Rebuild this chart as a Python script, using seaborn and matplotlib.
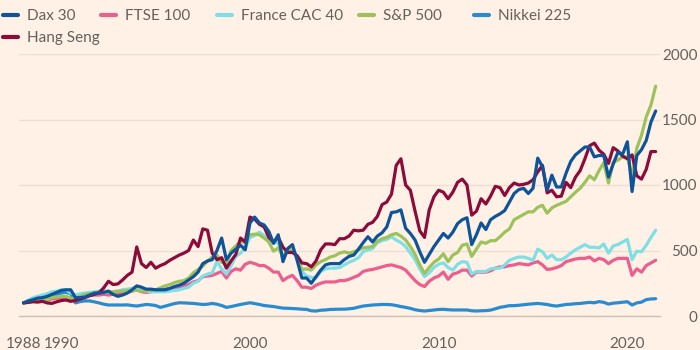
import numpy as np
import pandas as pd
import matplotlib
matplotlib.use("Agg")
import matplotlib.pyplot as plt
from matplotlib.lines import Line2D
import seaborn as sns

# quarterly index values (1988 Q1 = 100)
quarters = 1988 + 0.25 * np.arange(135)

dax = [
    100, 115, 125, 137,  140, 150, 165, 180,  195, 200, 200, 140,  140, 145, 160, 175,
    175, 180, 190, 165,  150, 160, 175, 200,  230, 220, 205, 205,  200, 200, 200, 210,
    225, 235, 250, 275,  300, 335, 400, 420,  430, 500, 595, 430,  480, 510, 540, 505,
    710, 755, 710, 695,  645, 555, 620, 415,  515, 545, 425, 290,  290, 250, 300, 350,
    390, 400, 400, 400,  430, 455, 465, 510,  560, 605, 565, 610,  635, 680, 790, 795,
    810, 670, 630, 580,  490, 410, 470, 530,  580, 630, 595, 640,  705, 735, 750, 545,
    620, 710, 660, 735,  760, 780, 805, 870,  935, 965, 975, 935,  975, 1205, 1140, 960,
    1075, 985, 985, 1090,  1180, 1230, 1260, 1290,  1290, 1215, 1225, 1225,
    1060, 1160, 1250, 1235,  1330, 950, 1225, 1270,  1340, 1480, 1565,
]
ftse = [
    100, 105, 110, 112,  118, 120, 130, 135,  140, 145, 130, 135,  140, 150, 155, 160,
    160, 165, 160, 165,  170, 175, 180, 190,  200, 185, 180, 185,  190, 195, 205, 210,
    215, 220, 230, 240,  260, 270, 300, 305,  310, 325, 340, 290,  340, 360, 350, 395,
    410, 400, 385, 385,  365, 335, 335, 270,  295, 310, 270, 220,  220, 210, 235, 250,
    260, 260, 260, 270,  270, 280, 295, 310,  340, 350, 355, 365,  375, 385, 390, 380,
    370, 350, 310, 270,  240, 225, 265, 290,  305, 335, 280, 320,  330, 350, 350, 305,
    335, 335, 335, 345,  365, 375, 375, 385,  390, 400, 395, 390,  405, 415, 390, 355,
    360, 370, 385, 415,  425, 435, 440, 440,  450, 420, 440, 430,
    400, 425, 440, 440,  440, 310, 360, 335,  385, 405, 425,
]
cac = [
    100, 120, 140, 150,  160, 170, 185, 190,  200, 200, 175, 160,  170, 175, 180, 185,
    190, 195, 185, 180,  190, 200, 205, 210,  220, 200, 190, 185,  185, 185, 185, 190,
    195, 200, 210, 220,  250, 265, 305, 320,  330, 415, 360, 320,  385, 455, 480, 520,
    600, 615, 640, 615,  580, 555, 565, 430,  495, 505, 450, 340,  305, 295, 290, 340,
    360, 365, 365, 370,  390, 410, 425, 445,  490, 505, 515, 560,  575, 585, 605, 580,
    560, 530, 480, 430,  360, 300, 330, 370,  395, 405, 370, 350,  395, 415, 410, 320,
    340, 340, 340, 360,  365, 365, 390, 425,  440, 450, 450, 440,  425, 510, 490, 440,
    465, 430, 430, 450,  480, 505, 525, 545,  525, 525, 520, 550,
    480, 535, 545, 565,  585, 430, 495, 490,  540, 600, 655,
]
sp500 = [
    100, 105, 110, 110,  118, 125, 140, 145,  148, 150, 135, 140,  150, 165, 170, 175,
    180, 180, 180, 185,  190, 190, 195, 195,  195, 190, 195, 195,  200, 215, 230, 240,
    255, 265, 270, 290,  330, 355, 380, 420,  450, 465, 410, 400,  500, 535, 570, 560,
    620, 625, 620, 595,  565, 495, 520, 455,  505, 505, 450, 355,  360, 350, 390, 415,
    430, 450, 460, 480,  490, 480, 490, 505,  520, 525, 530, 570,  590, 600, 620, 630,
    610, 580, 530, 470,  390, 325, 370, 410,  435, 475, 415, 465,  485, 540, 550, 455,
    510, 565, 555, 575,  575, 605, 640, 665,  735, 755, 775, 795,  795, 830, 845, 785,
    825, 845, 860, 875,  910, 945, 975, 1020,  1070, 1040, 1110, 1170,
    1015, 1175, 1190, 1215,  1215, 1060, 1280, 1380,  1520, 1610, 1755,
]
nikkei = [
    100, 110, 118, 125,  133, 145, 155, 165,  175, 180, 170, 100,  110, 115, 115, 108,
    100, 90, 84, 84,  84, 84, 85, 80,  76, 82, 88, 85,  80, 66, 75, 85,
    95, 101, 100, 98,  96, 92, 88, 90,  96, 90, 80, 66,  72, 80, 88, 95,
    101, 95, 88, 80,  76, 72, 66, 60,  59, 57, 55, 52,  50, 40, 38, 44,
    46, 50, 51, 52,  52, 55, 59, 68,  76, 80, 84, 86,  88, 88, 86, 80,
    72, 66, 58, 48,  42, 38, 42, 46,  50, 51, 48, 46,  46, 46, 46, 40,
    38, 40, 41, 45,  55, 66, 72, 79,  79, 82, 86, 90,  93, 96, 92, 88,
    80, 76, 82, 88,  90, 94, 96, 100,  104, 101, 110, 104,
    91, 98, 101, 105,  109, 84, 100, 106,  125, 130, 132,
]
hang_seng = [
    100, 104, 110, 106,  112, 100, 96, 108,  118, 122, 112, 118,  130, 140, 155, 165,
    178, 215, 265, 240,  245, 275, 310, 335,  527, 400, 370, 410,  365, 385, 400, 425,
    445, 465, 480, 500,  580, 530, 665, 655,  480, 430, 445, 365,  420, 470, 595, 565,
    755, 740, 700, 680,  600, 565, 600, 525,  485, 485, 460, 405,  400, 375, 420, 505,
    550, 550, 545, 590,  590, 610, 655, 650,  655, 700, 715, 760,  850, 870, 930, 1150,
    1200, 1000, 960, 800,  650, 600, 810, 910,  960, 945, 895, 945,  1020, 1045, 1000, 770,
    800, 895, 855, 915,  990, 980, 920, 980,  1015, 1000, 1005, 1015,  1040, 1100, 1150, 940,
    960, 910, 915, 1020,  980, 1060, 1110, 1200,  1300, 1320, 1265, 1235,
    1165, 1285, 1260, 1220,  1200, 1230, 1070, 1045,  1120, 1255, 1255,
]

names = ["Dax 30", "FTSE 100", "France CAC 40", "S&P 500", "Nikkei 225", "Hang Seng"]
colors = ["#0F5499", "#EB5E8D", "#7FDFE6", "#9EC25B", "#2A8CD0", "#8B0B3A"]
series = [dax, ftse, cac, sp500, nikkei, hang_seng]

df = pd.DataFrame({
    "year": np.tile(quarters, len(names)),
    "value": np.concatenate(series),
    "index": np.repeat(names, len(quarters)),
})

bg = "#FFF1E5"
text_col = "#66605C"
sns.set_style("white", {"axes.facecolor": bg, "figure.facecolor": bg})
plt.rcParams["font.family"] = ["Lato", "DejaVu Sans"]

fig = plt.figure(figsize=(7, 3.5), dpi=100)
ax = fig.add_axes([19 / 700, 34 / 350, 641 / 700, 262 / 350])

draw_order = ["Nikkei 225", "FTSE 100", "France CAC 40", "S&P 500", "Hang Seng", "Dax 30"]
sns.lineplot(data=df, x="year", y="value", hue="index", hue_order=draw_order,
             palette=dict(zip(names, colors)), linewidth=2.3, estimator=None,
             legend=False, ax=ax)

ax.set_xlim(1987.76, 2021.73)
ax.set_ylim(0, 2000)
ax.set_xlabel("")
ax.set_ylabel("")

for s in ["top", "left", "right"]:
    ax.spines[s].set_visible(False)
ax.spines["bottom"].set_color("#CCC1B7")
ax.spines["bottom"].set_linewidth(1)

ax.set_yticks([0, 500, 1000, 1500, 2000])
ax.yaxis.tick_right()
ax.yaxis.grid(True, color="#EBDFD4", linewidth=1)
ax.set_axisbelow(True)
ax.tick_params(axis="y", length=0, pad=27, labelsize=11, labelcolor=text_col)
for lab in ax.get_yticklabels():
    lab.set_horizontalalignment("right")

ax.set_xticks([1988, 1990, 2000, 2010, 2020])
ax.set_xticklabels(["1988", "1990", "2000", "2010", "2020"])
ax.set_xticks(list(range(1988, 2022)) + [2021.5], minor=True)
ax.tick_params(axis="x", which="major", length=10, width=1, color="#CCC1B7",
               pad=5, labelsize=11, labelcolor=text_col)
ax.tick_params(axis="x", which="minor", length=5.5, width=1, color="#CCC1B7")

# legend: one entry per box so every key sits where the original has it
legend_spots = [(3, 16), (101, 16), (217, 16), (359, 16), (474, 16), (3, 38)]
for name, col, (lx, ly) in zip(names, colors, legend_spots):
    fig.legend([Line2D([], [], color=col, lw=3)], [name], loc="center left",
               bbox_to_anchor=(lx / 700, 1 - ly / 350), frameon=False,
               handlelength=1.0, handletextpad=0.6, borderpad=0, borderaxespad=0,
               fontsize=11, labelcolor=text_col)

fig.savefig("out.png", dpi=100, facecolor=bg)
